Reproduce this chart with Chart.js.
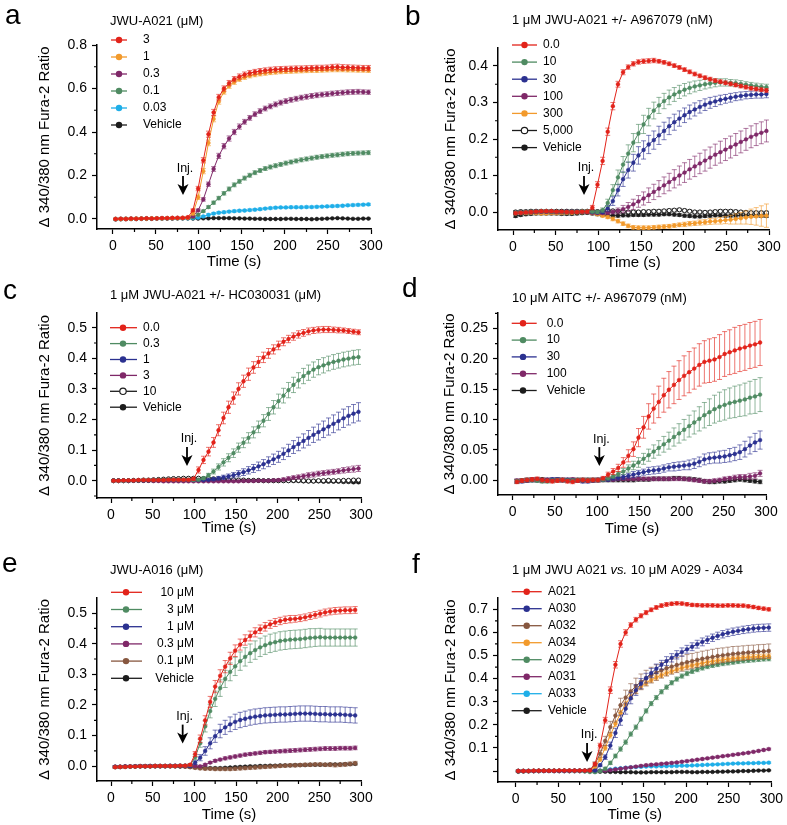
<!DOCTYPE html>
<html><head><meta charset="utf-8">
<script src="https://cdn.jsdelivr.net/npm/chart.js@4.4.1/dist/chart.umd.min.js"></script>
<style>
html,body{margin:0;padding:0;background:#fff;}
#wrap{position:relative;width:787px;height:825px;overflow:hidden;background:#fff;}
canvas{position:absolute;}
</style></head><body><div id="wrap"></div>
<script>
// ---------- time axes ----------
const TIME_A = [3,9,15,21,27,33,39,45,51,57,
 63,69,75,81,87,93,99,105,111,117,
 123,129,135,141,147,153,159,165,171,177,
 183,189,195,201,207,213,219,225,231,237,
 243,249,255,261,267,273,279,285,291,297];
const TIME_B = [5,11,17,23,29,35,41,47,53,59,
 65,71,77,83,89,95,101,107,113,119,
 125,131,137,143,149,155,161,167,173,179,
 185,191,197,203,209,215,221,227,233,239,
 245,251,257,263,269,275,281,287,293];

// ---------- panel a : JWU-A021 (uM) ----------
const LEG_A = ['3','1','0.3','0.1','0.03','Vehicle'];
const A_3 = [0,.001,0,.002,.001,.002,.003,.002,.003,.004,
 .004,.005,.005,.005,.008,.04,.14,.27,.39,.49,
 .56,.60,.625,.643,.655,.664,.671,.676,.68,.683,
 .686,.688,.689,.69,.691,.692,.692,.693,.694,.695,
 .695,.696,.698,.699,.697,.697,.696,.695,.694,.694];
const A_3_E = [.003,.003,.003,.003,.003,.003,.003,.003,.003,.003,
 .003,.003,.003,.003,.004,.006,.010,.012,.014,.014,
 .013,.012,.012,.012,.012,.012,.012,.012,.012,.012,
 .012,.012,.012,.012,.012,.012,.012,.012,.012,.012,
 .012,.012,.013,.013,.013,.012,.012,.012,.012,.012];
const A_1 = [0,0,.001,.001,.002,.002,.002,.003,.003,.003,
 .004,.004,.004,.005,.006,.025,.10,.22,.35,.46,
 .54,.585,.612,.63,.643,.652,.659,.664,.668,.671,
 .674,.676,.678,.679,.68,.681,.682,.683,.684,.684,
 .685,.686,.687,.687,.687,.686,.686,.685,.685,.684];
const A_1_E = [.003,.003,.003,.003,.003,.003,.003,.003,.003,.003,
 .003,.003,.003,.003,.004,.006,.010,.012,.013,.013,
 .012,.011,.011,.011,.010,.010,.010,.010,.010,.010,
 .010,.010,.010,.010,.010,.010,.010,.010,.010,.010,
 .010,.010,.010,.010,.010,.010,.010,.010,.010,.010];
const A_03 = [0,.001,.001,.002,.002,.002,.003,.003,.003,.004,
 .004,.004,.005,.005,.005,.012,.04,.09,.16,.23,
 .29,.335,.37,.40,.425,.447,.465,.482,.496,.508,
 .518,.527,.535,.542,.548,.553,.558,.562,.566,.569,
 .572,.574,.577,.579,.581,.583,.584,.585,.584,.583];
const A_03_E = [.003,.003,.003,.003,.003,.003,.003,.003,.003,.003,
 .003,.003,.003,.003,.003,.004,.006,.008,.010,.011,
 .012,.012,.012,.012,.012,.011,.011,.011,.011,.011,
 .011,.011,.011,.011,.011,.011,.011,.011,.011,.011,
 .011,.011,.011,.011,.011,.011,.011,.011,.010,.010];
const A_01 = [0,0,.001,.001,.001,.002,.002,.002,.003,.003,
 .003,.004,.004,.004,.004,.008,.02,.036,.055,.075,
 .096,.118,.138,.157,.173,.188,.201,.213,.223,.232,
 .239,.245,.251,.257,.262,.267,.272,.276,.28,.284,
 .287,.29,.293,.295,.298,.30,.302,.303,.304,.305];
const A_01_E = [.003,.003,.003,.003,.003,.003,.003,.003,.003,.003,
 .003,.003,.003,.003,.003,.003,.004,.005,.006,.007,
 .008,.008,.009,.009,.009,.009,.009,.009,.009,.009,
 .009,.009,.009,.009,.009,.009,.009,.009,.009,.009,
 .009,.009,.009,.009,.009,.009,.009,.009,.009,.009];
const A_003 = [0,0,.001,.001,.001,.001,.002,.002,.002,.002,
 .003,.003,.003,.003,.003,.004,.006,.012,.019,.025,
 .029,.031,.034,.036,.038,.039,.041,.043,.045,.048,
 .05,.052,.053,.053,.054,.054,.054,.055,.055,.056,
 .057,.058,.059,.06,.061,.063,.064,.065,.066,.067];
const A_003_E = [.003,.003,.003,.003,.003,.003,.003,.003,.003,.003,
 .003,.003,.003,.003,.003,.003,.004,.004,.005,.005,
 .005,.005,.005,.005,.005,.005,.005,.005,.005,.005,
 .005,.005,.005,.005,.005,.005,.005,.005,.005,.005,
 .005,.005,.005,.005,.005,.005,.005,.005,.005,.005];
const A_V = [-.002,-.001,-.001,0,0,.001,.001,.001,.002,.002,
 .002,.002,.003,.003,.003,.002,.002,.003,.003,.004,
 .004,.004,.004,.003,.003,.002,.002,.001,.001,0,
 0,0,0,.001,.001,0,0,0,-.001,0,
 .001,.002,.003,.004,.003,.002,.001,.001,.002,.002];
const A_V_E = [.002,.002,.002,.002,.002,.002,.002,.002,.002,.002,
 .002,.002,.002,.002,.002,.002,.002,.002,.002,.002,
 .002,.002,.002,.002,.002,.002,.002,.002,.002,.002,
 .002,.002,.002,.002,.002,.002,.002,.002,.002,.002,
 .002,.002,.002,.002,.002,.002,.002,.002,.002,.002];

// ---------- panel b : 1 uM JWU-A021 +/- A967079 (nM) ----------
const LEG_B = ['0.0','10','30','100','300','5,000','Vehicle'];
const B_0 = [-.003,-.002,-.001,0,.001,.002,.002,.002,.001,.001,
 0,0,0,.001,.001,.012,.075,.14,.22,.29,
 .35,.383,.397,.406,.411,.413,.414,.415,.413,.41,
 .406,.401,.396,.39,.384,.378,.373,.368,.364,.36,
 .357,.354,.351,.348,.345,.342,.339,.337,.335,.333];
const B_0_E = [.003,.003,.003,.003,.003,.003,.003,.003,.003,.003,
 .003,.003,.003,.003,.004,.006,.008,.010,.010,.010,
 .008,.007,.006,.006,.006,.006,.006,.006,.005,.005,
 .005,.005,.005,.005,.005,.005,.005,.005,.005,.005,
 .005,.005,.005,.005,.005,.005,.005,.005,.005,.005];
const B_10 = [-.002,-.001,0,.001,.001,.002,.002,.001,.001,0,
 0,.001,.001,.002,.002,.001,0,.005,.025,.06,
 .095,.13,.16,.19,.215,.24,.26,.278,.292,.304,
 .314,.322,.329,.335,.34,.344,.347,.35,.352,.354,
 .355,.355,.354,.353,.351,.349,.347,.345,.343,.342];
const B_10_E = [.003,.003,.003,.003,.003,.003,.003,.003,.003,.003,
 .003,.003,.003,.003,.003,.003,.004,.006,.010,.015,
 .020,.022,.024,.025,.025,.025,.024,.023,.022,.021,
 .020,.019,.018,.017,.016,.015,.014,.013,.012,.011,
 .010,.010,.009,.009,.009,.008,.008,.008,.008,.008];
const B_30 = [-.003,-.002,-.001,0,0,.001,.001,.001,0,0,
 0,.001,.001,.001,.001,0,-.001,0,.01,.03,
 .06,.09,.115,.135,.155,.17,.185,.197,.21,.222,
 .235,.246,.256,.265,.274,.281,.288,.294,.299,.303,
 .307,.31,.313,.316,.318,.32,.321,.322,.322,.323];
const B_30_E = [.003,.003,.003,.003,.003,.003,.003,.003,.003,.003,
 .003,.003,.003,.003,.003,.003,.003,.004,.008,.012,
 .016,.020,.022,.023,.024,.025,.025,.025,.025,.024,
 .023,.022,.021,.020,.019,.018,.017,.016,.015,.014,
 .013,.012,.012,.011,.011,.010,.010,.010,.010,.010];
const B_100 = [-.002,-.001,0,0,.001,.001,.001,0,0,0,
 .001,.001,.001,.001,0,-.002,-.003,-.003,-.002,0,
 .003,.008,.014,.021,.029,.037,.046,.055,.064,.073,
 .082,.091,.1,.108,.117,.125,.133,.141,.149,.157,
 .164,.171,.178,.185,.192,.199,.206,.212,.217,.222];
const B_100_E = [.003,.003,.003,.003,.003,.003,.003,.003,.003,.003,
 .003,.003,.003,.003,.003,.003,.003,.004,.004,.005,
 .008,.010,.012,.014,.016,.018,.020,.021,.022,.023,
 .024,.025,.026,.027,.027,.028,.028,.029,.029,.029,
 .030,.030,.030,.030,.030,.030,.030,.030,.030,.030];
const B_300 = [-.004,-.003,-.003,-.002,-.003,-.004,-.004,-.003,-.003,-.003,
 -.002,-.002,-.001,-.001,0,-.003,-.006,-.01,-.014,-.019,
 -.025,-.032,-.038,-.042,-.043,-.043,-.043,-.042,-.041,-.04,
 -.039,-.037,-.035,-.034,-.032,-.031,-.029,-.028,-.026,-.025,
 -.024,-.022,-.021,-.019,-.017,-.015,-.013,-.012,-.011,-.01];
const B_300_E = [.003,.003,.003,.003,.003,.003,.003,.003,.003,.003,
 .003,.003,.003,.003,.003,.003,.004,.004,.004,.005,
 .005,.005,.005,.005,.005,.005,.005,.005,.005,.005,
 .005,.005,.005,.006,.006,.006,.007,.007,.008,.008,
 .009,.010,.012,.014,.016,.018,.021,.024,.028,.032];
const B_5K = [0,.001,.001,.002,.002,.002,.002,.002,.002,.002,
 .002,.002,.002,.002,.002,.002,.001,.002,.003,.003,
 .002,.001,0,0,0,.001,.001,.002,.002,.003,
 .004,.005,.006,.004,.002,0,0,-.001,0,.001,
 .002,.002,.002,.001,0,-.001,-.002,-.002,-.002,-.002];
const B_5K_E = [.004,.004,.004,.004,.004,.004,.004,.004,.004,.004,
 .004,.004,.004,.004,.004,.004,.004,.004,.004,.004,
 .004,.004,.004,.004,.004,.004,.004,.004,.004,.004,
 .004,.004,.004,.004,.004,.004,.004,.004,.004,.004,
 .004,.004,.004,.004,.004,.004,.004,.004,.004,.004];
const B_V = [-.011,-.008,-.006,-.005,-.004,-.004,-.004,-.004,-.004,-.005,
 -.005,-.005,-.004,-.003,-.002,-.004,-.006,-.008,-.009,-.01,
 -.01,-.009,-.009,-.008,-.008,-.008,-.007,-.007,-.007,-.006,
 -.006,-.007,-.008,-.01,-.011,-.012,-.012,-.011,-.01,-.009,
 -.009,-.01,-.01,-.01,-.009,-.009,-.01,-.01,-.011,-.011];
const B_V_E = [.004,.004,.004,.004,.004,.004,.004,.004,.004,.004,
 .004,.004,.004,.004,.004,.004,.004,.004,.004,.004,
 .004,.004,.004,.004,.004,.004,.004,.004,.004,.004,
 .004,.004,.004,.004,.004,.004,.004,.004,.004,.004,
 .004,.004,.004,.004,.004,.004,.004,.004,.004,.004];

// ---------- panel c : 1 uM JWU-A021 +/- HC030031 (uM) ----------
const LEG_C = ['0.0','0.3','1','3','10','Vehicle'];
const C_0 = [0,0,.001,.001,.001,.002,.002,.002,.002,.002,
 .002,.003,.003,.003,.003,.003,.006,.035,.068,.095,
 .125,.165,.205,.24,.27,.30,.325,.348,.37,.388,
 .403,.416,.429,.442,.454,.463,.471,.478,.483,.488,
 .491,.493,.494,.494,.493,.492,.491,.489,.487,.485];
const C_0_E = [.003,.003,.003,.003,.003,.003,.003,.003,.003,.003,
 .003,.003,.003,.003,.003,.003,.005,.010,.012,.014,
 .016,.018,.019,.020,.020,.020,.020,.020,.019,.018,
 .017,.016,.015,.014,.013,.012,.012,.012,.011,.011,
 .010,.010,.010,.010,.009,.009,.008,.008,.008,.008];
const C_03 = [0,0,0,.001,.001,.001,.002,.002,.002,.003,
 .003,.003,.003,.003,.003,.003,.002,.003,.008,.018,
 .03,.045,.06,.075,.09,.108,.124,.14,.158,.176,
 .196,.218,.24,.26,.278,.296,.313,.328,.342,.353,
 .363,.371,.377,.383,.388,.392,.396,.399,.402,.404];
const C_03_E = [.003,.003,.003,.003,.003,.003,.003,.003,.003,.003,
 .003,.003,.003,.003,.003,.003,.003,.003,.004,.006,
 .008,.010,.012,.013,.014,.015,.016,.017,.018,.019,
 .020,.021,.022,.023,.024,.025,.025,.025,.025,.025,
 .025,.025,.025,.024,.024,.024,.024,.024,.024,.024];
const C_1 = [0,0,0,0,.001,.001,.001,.001,.002,.002,
 .002,.002,.002,.002,.002,.002,.002,.002,.002,.003,
 .005,.008,.011,.014,.018,.023,.028,.034,.04,.047,
 .054,.062,.07,.078,.088,.099,.11,.12,.13,.14,
 .15,.159,.168,.177,.186,.195,.204,.212,.219,.225];
const C_1_E = [.002,.002,.002,.002,.002,.002,.002,.002,.002,.002,
 .002,.002,.002,.002,.002,.002,.002,.002,.002,.002,
 .005,.006,.007,.008,.009,.010,.011,.012,.013,.014,
 .015,.016,.017,.018,.019,.020,.021,.022,.023,.024,
 .025,.026,.027,.028,.029,.029,.030,.030,.030,.030];
const C_3 = [0,0,0,0,0,0,0,0,-.001,-.001,
 -.002,-.002,-.002,-.002,-.002,-.002,-.002,-.002,-.002,-.002,
 -.002,-.002,-.002,-.002,-.002,-.002,-.001,-.001,-.001,0,
 0,0,.001,.002,.004,.007,.01,.012,.015,.018,
 .02,.023,.025,.027,.029,.031,.034,.036,.038,.04];
const C_3_E = [.003,.003,.003,.003,.003,.003,.003,.003,.003,.003,
 .003,.003,.003,.003,.003,.003,.003,.003,.003,.003,
 .003,.003,.003,.003,.003,.003,.003,.003,.003,.003,
 .003,.003,.004,.004,.005,.006,.006,.007,.007,.008,
 .008,.008,.008,.008,.008,.008,.009,.009,.010,.010];
const C_10 = [0,0,0,0,.001,.001,.002,.002,.003,.004,
 .005,.006,.007,.007,.008,.008,.008,.008,.007,.007,
 .006,.005,.004,.003,.003,.002,.002,.001,.001,.001,
 0,0,0,0,0,0,.001,.001,0,-.001,
 -.001,0,0,.001,0,0,.001,.001,.002,.002];
const C_10_E = [.003,.003,.003,.003,.003,.003,.003,.003,.003,.003,
 .003,.003,.003,.003,.003,.003,.003,.003,.003,.003,
 .003,.003,.003,.003,.003,.003,.003,.003,.003,.003,
 .003,.003,.003,.003,.003,.003,.003,.003,.003,.003,
 .003,.003,.003,.003,.003,.003,.003,.003,.003,.003];
const C_V = [0,0,0,0,0,0,0,0,0,.001,
 .001,.001,.002,.002,.002,.002,.002,.002,.002,.002,
 .001,.001,.001,0,0,0,0,0,0,0,
 0,0,0,0,0,0,-.001,-.001,-.002,-.002,
 -.002,-.002,-.003,-.003,-.003,-.003,-.004,-.004,-.005,-.005];
const C_V_E = [.003,.003,.003,.003,.003,.003,.003,.003,.003,.003,
 .003,.003,.003,.003,.003,.003,.003,.003,.003,.003,
 .003,.003,.003,.003,.003,.003,.003,.003,.003,.003,
 .003,.003,.003,.003,.003,.003,.003,.003,.003,.003,
 .003,.003,.003,.003,.003,.003,.003,.003,.003,.003];

// ---------- panel d : 10 uM AITC +/- A967079 (nM) ----------
const LEG_D = ['0.0','10','30','100','Vehicle'];
const D_0 = [-.003,-.001,0,.001,.002,0,-.001,-.002,-.001,0,
 -.002,-.003,-.001,0,-.001,0,0,.003,.009,.014,
 .02,.029,.04,.051,.07,.087,.105,.118,.129,.14,
 .149,.157,.165,.172,.178,.184,.19,.195,.197,.199,
 .203,.208,.211,.214,.217,.219,.222,.224,.227];
const D_0_E = [.003,.003,.003,.003,.003,.003,.003,.003,.003,.003,
 .003,.003,.003,.003,.003,.003,.003,.003,.004,.005,
 .006,.008,.010,.012,.015,.018,.021,.024,.026,.028,
 .030,.031,.032,.033,.034,.034,.035,.035,.036,.036,
 .037,.037,.037,.038,.038,.038,.038,.038,.038];
const D_10 = [-.002,-.001,0,0,-.001,-.002,-.002,-.001,0,0,
 -.001,-.001,0,0,0,0,0,.001,.003,.006,
 .01,.014,.019,.024,.029,.035,.041,.047,.053,.059,
 .065,.071,.077,.083,.089,.095,.101,.107,.112,.117,
 .121,.124,.127,.129,.131,.133,.136,.138,.141];
const D_10_E = [.003,.003,.003,.003,.003,.003,.003,.003,.003,.003,
 .003,.003,.003,.003,.003,.003,.003,.003,.003,.003,
 .004,.005,.006,.007,.008,.009,.010,.011,.012,.013,
 .014,.015,.016,.017,.018,.019,.020,.021,.022,.023,
 .024,.025,.025,.026,.026,.027,.027,.028,.028];
const D_30 = [-.002,-.002,-.001,0,0,-.001,0,.001,.001,0,
 0,-.001,-.001,-.002,-.002,-.001,0,.001,.001,.003,
 .004,.005,.007,.009,.011,.013,.015,.016,.017,.019,
 .021,.022,.023,.024,.025,.027,.03,.034,.036,.037,
 .038,.039,.041,.043,.046,.051,.057,.062,.066];
const D_30_E = [.003,.003,.003,.003,.003,.003,.003,.003,.003,.003,
 .003,.003,.003,.003,.003,.003,.003,.003,.003,.003,
 .004,.004,.004,.005,.005,.005,.006,.006,.006,.006,
 .006,.007,.007,.007,.008,.008,.008,.009,.009,.009,
 .010,.010,.011,.011,.012,.013,.014,.015,.015];
const D_100 = [-.001,-.001,0,.001,0,-.001,0,0,.001,0,
 0,.001,0,0,0,0,0,.001,.001,.001,
 .002,.002,.002,.002,.002,.002,.002,.002,.002,.002,
 .002,.002,.002,.002,.001,0,-.001,-.002,-.002,-.001,
 0,.002,.003,.004,.005,.005,.006,.007,.011];
const D_100_E = [.003,.003,.003,.003,.003,.003,.003,.003,.003,.003,
 .003,.003,.003,.003,.003,.003,.003,.003,.003,.003,
 .003,.003,.003,.003,.003,.003,.003,.003,.003,.003,
 .003,.003,.003,.003,.003,.003,.003,.003,.003,.003,
 .003,.003,.003,.004,.004,.004,.005,.005,.005];
const D_V = [-.002,-.001,0,0,.001,.001,0,0,0,0,
 0,0,0,0,0,0,0,0,0,0,
 0,0,0,0,.001,.001,.001,.002,.002,.002,
 .002,.003,.003,.002,.002,.001,0,-.002,-.003,-.003,
 -.002,-.002,-.001,0,.001,0,-.001,-.002,-.003];
const D_V_E = [.003,.003,.003,.003,.003,.003,.003,.003,.003,.003,
 .003,.003,.003,.003,.003,.003,.003,.003,.003,.003,
 .003,.003,.003,.003,.003,.003,.003,.003,.003,.003,
 .003,.003,.003,.003,.003,.003,.003,.003,.003,.003,
 .003,.003,.003,.003,.003,.003,.003,.003,.003];

// ---------- panel e : JWU-A016 (uM) ----------
const LEG_E = ['10 μM','3 μM','1 μM','0.3 μM','0.1 μM','Vehicle'];
const E_10 = [-.003,-.002,-.002,-.001,-.001,0,0,0,.001,.001,
 .001,.001,.001,.002,.002,.005,.04,.09,.15,.21,
 .26,.295,.325,.352,.377,.397,.412,.425,.437,.447,
 .455,.463,.469,.474,.478,.48,.481,.483,.486,.49,
 .494,.498,.502,.505,.507,.508,.509,.509,.51];
const E_10_E = [.003,.003,.003,.003,.003,.003,.003,.003,.003,.003,
 .003,.003,.003,.003,.003,.004,.008,.012,.015,.018,
 .020,.020,.020,.020,.019,.018,.017,.016,.015,.014,
 .014,.013,.013,.012,.012,.012,.011,.011,.011,.011,
 .011,.011,.011,.011,.011,.011,.011,.011,.011];
const E_3 = [-.003,-.002,-.002,-.001,-.001,0,0,0,.001,.001,
 .001,.001,.001,.002,.002,.004,.03,.075,.13,.18,
 .22,.255,.285,.308,.326,.343,.357,.369,.379,.388,
 .395,.401,.405,.409,.411,.413,.414,.415,.417,.419,
 .42,.421,.42,.42,.42,.42,.42,.42,.42];
const E_3_E = [.003,.003,.003,.003,.003,.003,.003,.003,.003,.003,
 .003,.003,.003,.003,.003,.004,.008,.013,.018,.022,
 .025,.027,.028,.029,.030,.030,.030,.030,.030,.030,
 .030,.030,.030,.030,.030,.030,.030,.030,.030,.030,
 .029,.029,.028,.028,.028,.028,.028,.028,.028];
const E_1 = [-.002,-.002,-.001,-.001,0,0,0,.001,.001,.001,
 .001,.002,.002,.002,.002,.001,.012,.028,.05,.075,
 .098,.115,.127,.137,.145,.151,.155,.159,.162,.164,
 .166,.167,.168,.169,.169,.17,.171,.172,.172,.172,
 .171,.17,.17,.169,.169,.169,.168,.167,.166];
const E_1_E = [.003,.003,.003,.003,.003,.003,.003,.003,.003,.003,
 .003,.003,.003,.003,.003,.004,.006,.010,.014,.018,
 .020,.022,.023,.024,.025,.025,.025,.025,.025,.025,
 .025,.025,.025,.025,.025,.025,.025,.025,.025,.025,
 .025,.025,.025,.025,.025,.025,.025,.025,.025];
const E_03 = [-.001,-.001,0,0,0,.001,.001,.001,.001,.001,
 .001,.001,.001,.001,.001,.001,.001,0,.005,.012,
 .018,.022,.026,.029,.032,.035,.038,.04,.042,.044,
 .046,.047,.048,.049,.05,.051,.052,.053,.054,.055,
 .056,.057,.058,.058,.058,.059,.059,.059,.06];
const E_03_E = [.003,.003,.003,.003,.003,.003,.003,.003,.003,.003,
 .003,.003,.003,.003,.003,.003,.003,.003,.003,.003,
 .004,.004,.005,.005,.005,.005,.005,.005,.005,.005,
 .005,.005,.005,.005,.006,.006,.006,.006,.006,.006,
 .006,.006,.006,.006,.006,.006,.006,.006,.006];
const E_01 = [-.002,-.002,-.001,-.001,0,0,0,0,0,0,
 0,0,0,0,-.001,-.003,-.005,-.007,-.008,-.008,
 -.009,-.009,-.009,-.009,-.008,-.007,-.006,-.005,-.004,-.003,
 -.002,-.001,0,.001,.002,.003,.003,.004,.005,.005,
 .006,.006,.005,.005,.004,.005,.006,.008,.01];
const E_01_E = [.003,.003,.003,.003,.003,.003,.003,.003,.003,.003,
 .003,.003,.003,.003,.004,.004,.004,.004,.004,.004,
 .005,.005,.005,.005,.005,.005,.005,.005,.005,.005,
 .005,.005,.005,.005,.005,.005,.005,.005,.005,.005,
 .005,.005,.005,.006,.006,.006,.006,.006,.006];
const E_V = [-.002,-.002,-.001,-.001,-.001,0,0,0,0,0,
 0,0,0,-.001,-.001,-.002,-.003,-.004,-.005,-.006,
 -.006,-.006,-.005,-.004,-.003,-.002,-.001,0,0,.001,
 .001,.002,.002,.003,.003,.003,.004,.004,.004,.005,
 .005,.005,.005,.006,.006,.006,.007,.007,.008];
const E_V_E = [.003,.003,.003,.003,.003,.003,.003,.003,.003,.003,
 .003,.003,.003,.003,.003,.003,.003,.003,.003,.003,
 .003,.003,.003,.003,.003,.003,.003,.003,.003,.003,
 .003,.003,.003,.003,.003,.003,.003,.003,.003,.003,
 .003,.003,.003,.003,.003,.003,.003,.003,.003];

// ---------- panel f : 1 uM JWU A021 vs. 10 uM A029 - A034 ----------
const LEG_F = ['A021','A030','A032','A034','A029','A031','A033','Vehicle'];
const F_21 = [0,0,0,.001,.001,.001,.001,.001,.002,.002,
 .002,.002,.002,.002,.002,.03,.11,.22,.35,.46,
 .55,.60,.632,.655,.672,.686,.698,.708,.716,.721,
 .724,.726,.725,.722,.719,.718,.717,.717,.717,.716,
 .716,.717,.717,.716,.716,.713,.71,.706,.703,.70];
const F_21_E = [.003,.003,.003,.003,.003,.003,.003,.003,.003,.003,
 .003,.003,.003,.003,.003,.006,.010,.012,.014,.014,
 .014,.012,.010,.010,.009,.009,.008,.008,.008,.008,
 .007,.007,.007,.007,.007,.007,.007,.007,.007,.007,
 .007,.007,.007,.007,.007,.007,.007,.007,.007,.007];
const F_30 = [0,0,0,0,.001,.001,.001,.001,.001,.001,
 .001,.002,.002,.002,.002,.002,.025,.06,.11,.165,
 .22,.27,.315,.35,.378,.402,.424,.443,.46,.476,
 .49,.503,.515,.527,.538,.549,.559,.568,.577,.585,
 .592,.598,.603,.607,.611,.614,.617,.619,.62,.621];
const F_30_E = [.003,.003,.003,.003,.003,.003,.003,.003,.003,.003,
 .003,.003,.003,.003,.003,.003,.005,.010,.015,.020,
 .022,.024,.024,.023,.022,.021,.020,.020,.019,.019,
 .018,.018,.018,.017,.017,.017,.017,.016,.016,.016,
 .016,.016,.016,.016,.016,.016,.016,.016,.016,.016];
const F_32 = [0,0,0,.001,.001,.001,.001,.001,.001,.002,
 .002,.002,.002,.002,.005,.03,.075,.13,.19,.24,
 .285,.318,.345,.368,.386,.402,.415,.426,.436,.445,
 .452,.459,.465,.471,.476,.481,.486,.49,.494,.498,
 .501,.504,.507,.509,.511,.513,.515,.517,.518,.52];
const F_32_E = [.003,.003,.003,.003,.003,.003,.003,.003,.003,.003,
 .003,.003,.003,.003,.006,.010,.015,.020,.025,.028,
 .030,.032,.033,.034,.034,.034,.034,.034,.034,.034,
 .033,.033,.033,.033,.033,.033,.033,.033,.033,.033,
 .032,.032,.032,.031,.031,.031,.030,.030,.030,.030];
const F_34 = [0,0,0,0,.001,.001,.001,.001,.001,.001,
 .001,.001,.002,.002,.002,.015,.05,.1,.155,.205,
 .25,.29,.322,.347,.366,.381,.394,.405,.415,.424,
 .432,.439,.446,.452,.457,.462,.467,.471,.475,.478,
 .481,.484,.487,.489,.491,.493,.494,.495,.496,.497];
const F_34_E = [.003,.003,.003,.003,.003,.003,.003,.003,.003,.003,
 .003,.003,.003,.003,.003,.005,.008,.010,.012,.012,
 .012,.012,.011,.011,.011,.010,.010,.010,.010,.010,
 .010,.010,.010,.010,.010,.010,.010,.010,.010,.010,
 .010,.010,.010,.010,.010,.010,.010,.010,.010,.010];
const F_29 = [0,0,0,0,0,.001,.001,.001,.001,.001,
 0,0,0,-.002,-.004,-.005,0,.01,.035,.065,
 .095,.125,.16,.19,.225,.26,.292,.318,.343,.363,
 .382,.398,.411,.422,.431,.439,.446,.452,.457,.461,
 .465,.468,.471,.474,.477,.479,.481,.483,.485,.486];
const F_29_E = [.003,.003,.003,.003,.003,.003,.003,.003,.003,.003,
 .003,.003,.003,.003,.003,.004,.005,.006,.007,.008,
 .009,.009,.009,.009,.009,.009,.009,.009,.009,.009,
 .009,.009,.009,.009,.009,.009,.009,.009,.009,.009,
 .009,.009,.009,.009,.009,.009,.009,.009,.009,.009];
const F_31 = [0,0,0,0,0,0,0,0,0,0,
 0,0,0,0,0,0,.001,.002,.004,.007,
 .01,.013,.016,.019,.022,.025,.027,.029,.031,.033,
 .035,.037,.04,.043,.046,.049,.052,.055,.058,.061,
 .064,.067,.07,.073,.076,.079,.083,.087,.091,.095];
const F_31_E = [.004,.004,.004,.004,.004,.004,.004,.004,.004,.004,
 .004,.004,.004,.004,.004,.004,.004,.004,.004,.004,
 .004,.004,.004,.004,.004,.004,.004,.004,.004,.004,
 .004,.004,.004,.004,.004,.004,.004,.004,.004,.004,
 .004,.004,.004,.004,.004,.004,.004,.004,.004,.004];
const F_33 = [0,0,0,0,0,0,0,0,0,0,
 0,0,0,0,0,.001,.002,.004,.007,.01,
 .012,.014,.016,.017,.018,.019,.02,.02,.021,.021,
 .022,.022,.023,.023,.024,.025,.026,.027,.028,.029,
 .03,.031,.032,.033,.033,.034,.034,.035,.035,.036];
const F_33_E = [.003,.003,.003,.003,.003,.003,.003,.003,.003,.003,
 .003,.003,.003,.003,.003,.003,.003,.003,.003,.003,
 .003,.003,.003,.003,.003,.003,.003,.003,.003,.003,
 .003,.003,.003,.003,.003,.003,.003,.003,.003,.003,
 .003,.003,.003,.003,.003,.003,.003,.003,.003,.003];
const F_V = [-.003,-.002,-.001,0,0,.001,.001,0,0,0,
 0,0,0,0,-.001,-.002,-.003,-.003,-.004,-.004,
 -.005,-.005,-.005,-.006,-.006,-.006,-.005,-.005,-.005,-.005,
 -.005,-.004,-.004,-.004,-.005,-.005,-.004,-.004,-.004,-.003,
 -.003,-.002,-.002,-.001,0,0,.001,.002,.002,.003];
const F_V_E = [.002,.002,.002,.002,.002,.002,.002,.002,.002,.002,
 .002,.002,.002,.002,.002,.002,.002,.002,.002,.002,
 .002,.002,.002,.002,.002,.002,.002,.002,.002,.002,
 .002,.002,.002,.002,.002,.002,.002,.002,.002,.002,
 .002,.002,.002,.002,.002,.002,.002,.002,.002,.002];

// ---------- styling ----------
const FONT = '"Liberation Sans", Arial, Helvetica, sans-serif';
const RED='#e2231a', ORANGE='#f29a2c', PURPLE='#7f2868', GREEN='#4f8b62',
      CYAN='#1eaee8', BLACK='#1c1c1c', BLUE='#2b3190', BROWN='#87573f';
function rgba(hex,a){const n=parseInt(hex.slice(1),16);return `rgba(${n>>16},${(n>>8)&255},${n&255},${a})`;}

const PANELS = [
 {letter:'a', letterPos:[5,23.5], title:[['JWU-A021 (μM)',false]], titlePos:[110,21],
  canvas:[0,0,392,280], area:[97,45,371,229], x:[-18.6,300], y:[-0.046,0.8001], yStep:0.2, yDec:1,
  yTitleX:45, xTitleY:262, time:TIME_A,
  series:[[A_3,A_3_E,RED],[A_1,A_1_E,ORANGE],[A_03,A_03_E,PURPLE],[A_01,A_01_E,GREEN],[A_003,A_003_E,CYAN],[A_V,A_V_E,BLACK]],
  labels:LEG_A, open:[], legend:{x0:111,x1:127,dot:119,tx:143,align:'left',y0:40,dy:17},
  inj:{t:81.4,v:0.11}},
 {letter:'b', letterPos:[405,25], title:[['1 μM JWU-A021 +/- A967079 (nM)',false]], titlePos:[512,20],
  canvas:[392,0,395,280], area:[498,48,769,230], x:[-17.6,300], y:[-0.0493,0.4493], yStep:0.1, yDec:1,
  yTitleX:451, xTitleY:263, time:TIME_A,
  series:[[B_0,B_0_E,RED],[B_10,B_10_E,GREEN],[B_30,B_30_E,BLUE],[B_100,B_100_E,PURPLE],[B_300,B_300_E,ORANGE],[B_5K,B_5K_E,BLACK],[B_V,B_V_E,BLACK]],
  labels:LEG_B, open:[5], legend:{x0:512,x1:537,dot:524.5,tx:543,align:'left',y0:45,dy:17.1},
  inj:{t:83.2,v:0.0466}},
 {letter:'c', letterPos:[3,299], title:[['1 μM JWU-A021 +/- HC030031 (μM)',false]], titlePos:[110,295],
  canvas:[0,270,392,280], area:[97,313,361,498], x:[-16.8,300], y:[-0.0565,0.548], yStep:0.1, yDec:1,
  yTitleX:45.3, xTitleY:528, time:TIME_A,
  series:[[C_0,C_0_E,RED],[C_03,C_03_E,GREEN],[C_1,C_1_E,BLUE],[C_3,C_3_E,PURPLE],[C_10,C_10_E,BLACK],[C_V,C_V_E,BLACK]],
  labels:LEG_C, open:[4], legend:{x0:110,x1:137,dot:123,tx:143,align:'left',y0:327.7,dy:15.9},
  inj:{t:91.2,v:0.048}},
 {letter:'d', letterPos:[402,296.7], title:[['10 μM AITC +/- A967079 (nM)',false]], titlePos:[512,298],
  canvas:[392,270,395,280], area:[498,313,766,495], x:[-17.4,300], y:[-0.0247,0.2757], yStep:0.05, yDec:2,
  yTitleX:450, xTitleY:528.5, time:TIME_B,
  series:[[D_0,D_0_E,RED],[D_10,D_10_E,GREEN],[D_30,D_30_E,BLUE],[D_100,D_100_E,PURPLE],[D_V,D_V_E,BLACK]],
  labels:LEG_D, open:[], legend:{x0:511.7,x1:536.7,dot:523,tx:546.7,align:'left',y0:323.3,dy:16.8},
  inj:{t:102.6,v:0.023}},
 {letter:'e', letterPos:[2,571.7], title:[['JWU-A016 (μM)',false]], titlePos:[110,570],
  canvas:[0,540,392,285], area:[97,598,361,781], x:[-16.8,300], y:[-0.048,0.549], yStep:0.1, yDec:1,
  yTitleX:45.3, xTitleY:815, time:TIME_B,
  series:[[E_10,E_10_E,RED],[E_3,E_3_E,GREEN],[E_1,E_1_E,BLUE],[E_03,E_03_E,PURPLE],[E_01,E_01_E,BROWN],[E_V,E_V_E,BLACK]],
  labels:LEG_E, open:[], legend:{x0:111,x1:142,dot:126,tx:194,align:'right',y0:592.3,dy:17.2},
  inj:{t:86,v:0.074}},
 {letter:'f', letterPos:[412,573.3], title:[['1 μM JWU A021 ',false],['vs.',true],[' 10 μM A029 - A034',false]], titlePos:[512,570],
  canvas:[392,540,395,285], area:[498,598,775,782], x:[-20.85,300], y:[-0.0476,0.749], yStep:0.1, yDec:1, hideZero:true,
  yTitleX:450.7, xTitleY:815, time:TIME_A,
  series:[[F_21,F_21_E,RED],[F_30,F_30_E,BLUE],[F_32,F_32_E,BROWN],[F_34,F_34_E,ORANGE],[F_29,F_29_E,GREEN],[F_31,F_31_E,PURPLE],[F_33,F_33_E,CYAN],[F_V,F_V_E,BLACK]],
  labels:LEG_F, open:[], legend:{x0:511.7,x1:541.7,dot:526.7,tx:548,align:'left',y0:591.7,dy:17},
  inj:{t:83.7,v:0.039}}
];

function makeDecor(p){
 return {
  id:'decor',
  beforeDatasetDraw(chart,args){
   const ds=chart.data.datasets[args.index];
   if(!ds.err) return;
   const ctx=chart.ctx, ys=chart.scales.y;
   ctx.save(); ctx.strokeStyle=ds.errColor; ctx.lineWidth=1; ctx.beginPath();
   args.meta.data.forEach((pt,i)=>{
     const e=ds.err[i]; if(!e) return;
     const v=ds.data[i].y;
     const y1=ys.getPixelForValue(v+e), y2=ys.getPixelForValue(v-e), x=pt.x;
     ctx.moveTo(x,y1);ctx.lineTo(x,y2);
     ctx.moveTo(x-2.5,y1);ctx.lineTo(x+2.5,y1);
     ctx.moveTo(x-2.5,y2);ctx.lineTo(x+2.5,y2);
   });
   ctx.stroke(); ctx.restore();
  },
  afterDraw(chart){
   const ctx=chart.ctx, ox=p.canvas[0], oy=p.canvas[1];
   const xs=chart.scales.x, ys=chart.scales.y, ca=chart.chartArea;
   ctx.save();
   // minor ticks
   ctx.strokeStyle='#000'; ctx.lineWidth=1.2; ctx.beginPath();
   for(let k=Math.ceil(xs.min/25); k*25<=xs.max+1e-9; k++){
     if(k%2===0) continue; const x=xs.getPixelForValue(k*25);
     ctx.moveTo(x,ca.bottom); ctx.lineTo(x,ca.bottom+3);
   }
   const ms=p.yStep/2;
   for(let k=Math.ceil(ys.min/ms-1e-9); k*ms<=ys.max+1e-9; k++){
     if(k%2===0) continue; const y=ys.getPixelForValue(k*ms);
     ctx.moveTo(ca.left,y); ctx.lineTo(ca.left-3,y);
   }
   ctx.stroke();
   // legend
   const L=p.legend;
   ctx.textBaseline='middle';
   p.labels.forEach((lab,i)=>{
     const color=p.series[i][2], open=p.open.includes(i);
     const y=L.y0+i*L.dy-oy;
     ctx.strokeStyle=color; ctx.lineWidth=1.3;
     ctx.beginPath(); ctx.moveTo(L.x0-ox,y); ctx.lineTo(L.x1-ox,y); ctx.stroke();
     ctx.beginPath(); ctx.arc(L.dot-ox,y,3.2,0,Math.PI*2);
     ctx.fillStyle=open?'#fff':color; ctx.fill();
     if(open){ctx.lineWidth=1.2; ctx.stroke();}
     ctx.fillStyle='#000'; ctx.font=`12px ${FONT}`; ctx.textAlign=L.align;
     ctx.fillText(lab, L.tx-ox, y);
   });
   // injection arrow
   const ax=xs.getPixelForValue(p.inj.t), ay=ys.getPixelForValue(p.inj.v);
   ctx.strokeStyle='#000'; ctx.lineWidth=1.8;
   ctx.beginPath(); ctx.moveTo(ax,ay-19); ctx.lineTo(ax,ay-7); ctx.stroke();
   ctx.beginPath(); ctx.moveTo(ax,ay); ctx.lineTo(ax-5.5,ay-11); ctx.lineTo(ax,ay-8); ctx.lineTo(ax+5.5,ay-11); ctx.closePath();
   ctx.fillStyle='#000'; ctx.fill();
   ctx.font=`12.5px ${FONT}`; ctx.textAlign='center'; ctx.fillText('Inj.', ax+2, ay-27);
   // title
   let tx=p.titlePos[0]-ox; ctx.textAlign='left';
   p.title.forEach(([txt,it])=>{
     ctx.font=`${it?'italic ':''}13px ${FONT}`;
     ctx.fillText(txt,tx,p.titlePos[1]-oy); tx+=ctx.measureText(txt).width;
   });
   // panel letter
   ctx.font=`28px ${FONT}`; ctx.textBaseline='alphabetic';
   ctx.fillText(p.letter, p.letterPos[0]-ox, p.letterPos[1]-oy);
   ctx.restore();
  }
 };
}

const wrap=document.getElementById('wrap');
PANELS.forEach(p=>{
  const [cx,cy,cw,ch]=p.canvas, [L,T,R,B]=p.area;
  const cv=document.createElement('canvas');
  cv.width=cw; cv.height=ch; cv.style.left=cx+'px'; cv.style.top=cy+'px';
  cv.style.width=cw+'px'; cv.style.height=ch+'px';
  wrap.appendChild(cv);
  const datasets=p.series.map((s,i)=>{
    const open=p.open.includes(i);
    return {
      label:p.labels[i],
      data:p.time.map((t,j)=>({x:t,y:s[0][j]})),
      err:s[1], errColor:rgba(s[2],0.62),
      borderColor:s[2], borderWidth:1, tension:0, fill:false,
      pointRadius:open?2.1:1.9, pointHoverRadius:0, pointBorderWidth:open?1:0.5,
      pointBackgroundColor:open?'#fff':s[2], pointBorderColor:s[2]
    };
  });
  const titleFont={family:FONT,size:15};
  new Chart(cv,{
    type:'line',
    data:{datasets},
    plugins:[makeDecor(p)],
    options:{
      responsive:false, maintainAspectRatio:false, animation:false, devicePixelRatio:1, events:[],
      layout:{autoPadding:false, padding:{left:0,top:T-cy,right:cx+cw-R,bottom:0}},
      plugins:{legend:{display:false},tooltip:{enabled:false}},
      scales:{
        x:{type:'linear', min:p.x[0], max:p.x[1],
           afterFit(s){s.height=cy+ch-B;},
           ticks:{stepSize:50, includeBounds:false, autoSkip:false, maxRotation:0, color:'#000',
                  font:{family:FONT,size:14}, padding:4, callback:v=>String(v)},
           grid:{display:true, drawOnChartArea:false, drawTicks:true, tickLength:5, tickWidth:1.2, tickColor:'#000'},
           border:{display:true,color:'#000',width:1.5},
           title:{display:true,text:'Time (s)',color:'#000',font:titleFont,padding:{top:0,bottom:cy+ch-p.xTitleY-9}}},
        y:{type:'linear', min:p.y[0], max:p.y[1],
           afterFit(s){s.width=L-cx;},
           ticks:{stepSize:p.yStep, includeBounds:false, autoSkip:false, color:'#000',
                  font:{family:FONT,size:14}, padding:5,
                  callback:v=>(p.hideZero && Math.abs(v)<1e-9)?'':v.toFixed(p.yDec)},
           grid:{display:true, drawOnChartArea:false, drawTicks:true, tickLength:5, tickWidth:1.2, tickColor:'#000'},
           border:{display:true,color:'#000',width:1.5},
           title:{display:true,text:'Δ 340/380 nm Fura-2 Ratio',color:'#000',font:titleFont,padding:{top:p.yTitleX-cx-9,bottom:0}}}
      }
    }
  });
});
</script>
</body></html>
